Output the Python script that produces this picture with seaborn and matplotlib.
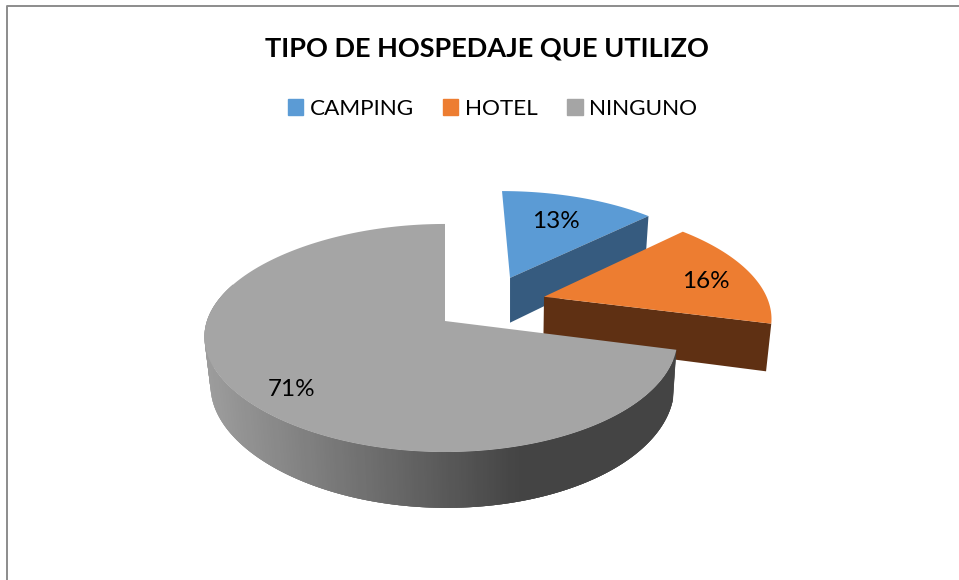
import numpy as np
import matplotlib
matplotlib.use("Agg")
import matplotlib.pyplot as plt
from matplotlib.patches import Patch
import seaborn as sns

titulo = "TIPO DE HOSPEDAJE QUE UTILIZO"
categorias = ["CAMPING", "HOTEL", "NINGUNO"]
valores = [13, 16, 71]

colores = ["#5B9BD5", "#ED7D31", "#A5A5A5"]
colores_corte = ["#365B7F", "#5F3013", "#444444"]

# separacion de cada porcion, en radios del disco (horizontal, profundidad)
sep_u = [0.30, 0.445, 0.0]
sep_v = [-0.41, -0.225, 0.0]
# donde va cada porcentaje, en pixeles de la figura
pos_etiquetas = [(556, 222), (706, 282), (292, 390)]

# camara: el centro del disco y sus radios en pixeles
cx, cy = 445, 321
rx, ry = 230, 111.5
persp = 0.149
grosor = 47.5
fuga_x = 510


def proyectar(u, v):
    # pasa del plano del disco a pixeles, lo de delante se ve mas grande
    u = np.asarray(u, dtype=float)
    v = np.asarray(v, dtype=float)
    s = 1 / (1 - persp * v)
    ancho = np.where(u < 0, u * (1 + 0.035 * u**2), u)
    return cx + rx * ancho * s, cy + ry * v * s, s


def bajar(x, y, s):
    # la cara inferior de la misma porcion
    return x - (x - fuga_x) * 0.02, y + grosor * s


def arco(ini, fin, su, sv, n=200):
    ang = np.radians(np.linspace(ini, fin, n))
    return proyectar(su + np.sin(ang), sv - np.cos(ang))


sns.set_theme(style="white")
plt.rcParams["font.family"] = ["Lato", "DejaVu Sans"]

fig, ax = plt.subplots(figsize=(9.59, 5.8), dpi=100)
fig.subplots_adjust(0, 0, 1, 1)
ax.set_xlim(0, 959)
ax.set_ylim(580, 0)
ax.axis("off")

# marco del grafico, solo se ve arriba y a la izquierda
ax.plot([6.5, 6.5, 959], [580, 5.5, 5.5], color="#8C8C8C", lw=1.4)

limites = np.cumsum([0] + valores) * 3.6
paleta = sns.color_palette(colores)
degradado = sns.blend_palette(["#9C9C9C", "#444444"], 100)


def cara_superior(i):
    ax0, ay0, _ = proyectar(sep_u[i], sep_v[i])
    x, y, _ = arco(limites[i], limites[i + 1], sep_u[i], sep_v[i])
    ax.fill(np.r_[ax0, x], np.r_[ay0, y], color=paleta[i], lw=0, zorder=3 + i)


def cara_corte(i, ang):
    # la pared plana entre el centro y el borde de la porcion
    a = np.radians(ang)
    x0, y0, s0 = proyectar(sep_u[i], sep_v[i])
    x1, y1, s1 = proyectar(sep_u[i] + np.sin(a), sep_v[i] - np.cos(a))
    bx0, by0 = bajar(x0, y0, s0)
    bx1, by1 = bajar(x1, y1, s1)
    ax.fill(
        [x0, x1, bx1, bx0], [y0, y1, by1, by0],
        color=colores_corte[i], lw=0, zorder=3 + i,
    )


# atras: camping y hotel, cada uno con su corte
cara_superior(0)
cara_corte(0, limites[1])
cara_corte(1, limites[2])
cara_superior(1)

# la pared curva de ninguno con su degradado, solo la parte que da al frente
x, y, s = arco(limites[2], 290, sep_u[2], sep_v[2], n=400)
bx, by = bajar(x, y, s)
for j in range(len(x) - 1):
    t = np.clip((x[j] - 206) / (520 - 206), 0, 1)
    # cada tramo pisa a los siguientes para que no queden rayas
    k = min(j + 4, len(x))
    ax.fill(
        np.r_[x[j:k], bx[j:k][::-1]], np.r_[y[j:k], by[j:k][::-1]],
        color=degradado[int(t * 99)], lw=0, zorder=5,
    )
cara_superior(2)

for valor, (px, py) in zip(valores, pos_etiquetas):
    ax.text(px, py, f"{valor}%", ha="center", va="center", fontsize=17.5,
            color="black", zorder=10)

ax.text(487, 48, titulo, ha="center", va="center", fontsize=19.5,
        fontweight="bold", color="black")

marcas = [Patch(color=c, label=n) for c, n in zip(paleta, categorias)]
ax.legend(
    handles=marcas, ncol=3, frameon=False, fontsize=16.2,
    loc="center", bbox_to_anchor=(492.5 / 959, 1 - 109 / 580),
    handlelength=0.68, handleheight=0.68, handletextpad=0.3,
    columnspacing=1.3, labelcolor="black",
)

plt.savefig("out.png", dpi=100)
